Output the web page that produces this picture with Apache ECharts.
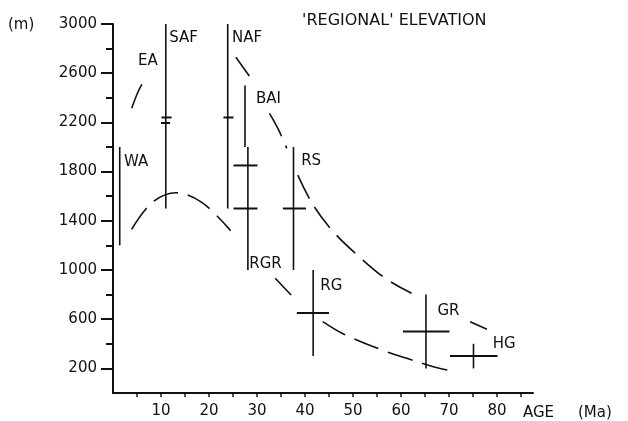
<!DOCTYPE html>
<html>
<head>
<meta charset="utf-8">
<script src="https://cdn.jsdelivr.net/npm/echarts@6/dist/echarts.min.js"></script>
<style>
html,body{margin:0;padding:0;background:#fff;}
#chart{width:628px;height:421px;}
</style>
</head>
<body>
<div id="chart"></div>
<script>
// ---- data (age in Ma, elevation in m) ----
const xTickLabels = [10, 20, 30, 40, 50, 60, 70, 80];
const xTicks = [5, 10, 15, 20, 25, 30, 35, 40, 45, 50, 55, 60, 65, 70, 75, 80, 85];
const yTickLabels = [200, 600, 1000, 1400, 1800, 2200, 2600, 3000];
const yMinorTicks = [400, 800, 1200, 1600, 2000, 2400, 2800];

// vertical ranges: [age, low elevation, high elevation]
const verticalRanges = [
  [1.4, 1200, 2000],   // WA
  [11.0, 1500, 3000],  // SAF
  [23.9, 1500, 3000],  // NAF
  [27.5, 2000, 2500],  // BAI upper
  [28.1, 1000, 2000],  // BAI lower
  [37.6, 1000, 2000],  // RS
  [41.7, 300, 1000],   // RG
  [65.2, 200, 800],    // GR
  [75.1, 200, 400]     // HG
];
// horizontal ranges: [elevation, age low, age high]
const horizontalRanges = [
  [2240, 10.1, 12.2],  // SAF
  [2195, 10.0, 11.9],  // SAF
  [2240, 23.0, 25.1],  // NAF
  [1850, 25.1, 30.1],  // BAI
  [1500, 25.1, 30.1],  // BAI
  [1500, 35.4, 40.2],  // RS
  [650, 38.3, 45.0],   // RG
  [500, 60.4, 70.1],   // GR
  [300, 70.2, 80.1]    // HG
];
// upper dashed envelope (null = break)
const upperCurve = [
  [3.9, 2315], [5.3, 2455], [7.0, 2577], null,
  [25.6, 2729], [28.4, 2577], null,
  [32.6, 2274], [34.5, 2140], [36.2, 1989], null,
  [38.5, 1772], [41.7, 1528], [45.9, 1311], [51.1, 1114], [56.7, 933], [62.2, 811], null,
  [74.4, 580], [77.9, 518]
];
// lower dashed envelope
const lowerCurve = [
  [3.9, 1331], [8.1, 1547], [13.1, 1628], [18.5, 1550], [24.5, 1320], null,
  [33.8, 933], [37.1, 797], null,
  [43.7, 580], [48.0, 480], [56.0, 350], [61.2, 282], [67.1, 209], [70.6, 181]
];
// site labels: [name, age, elevation]
const siteLabels = [
  ['WA', 2.3, 1880], ['EA', 5.2, 2700], ['SAF', 11.7, 2886], ['NAF', 24.8, 2886],
  ['BAI', 29.8, 2391], ['RS', 39.2, 1888], ['RGR', 28.4, 1044], ['RG', 43.2, 873],
  ['GR', 67.6, 662], ['HG', 79.1, 394]
];
const titleText = "'REGIONAL' ELEVATION";
const yUnit = '(m)';
const xName = 'AGE';
const xUnit = '(Ma)';

// ---- chart ----
const INK = '#111111';
const FONT = 'DejaVu Sans';

function splitPieces(arr) {
  const pieces = [];
  let cur = [];
  arr.forEach(p => {
    if (p === null) { if (cur.length) pieces.push(cur); cur = []; }
    else cur.push(p);
  });
  if (cur.length) pieces.push(cur);
  return pieces;
}

const curveSeries = [];
[upperCurve, lowerCurve].forEach(curve => {
  splitPieces(curve).forEach(piece => {
    curveSeries.push({
      type: 'line',
      data: piece,
      smooth: 0.35,
      showSymbol: false,
      symbol: 'none',
      z: 2,
      silent: true,
      lineStyle: { color: INK, width: 1.6, type: [26, 10] }
    });
  });
});

const plain = v => String(v);
const txt = (size) => ({ fontFamily: FONT, fontSize: size, fontWeight: 'normal', color: INK });

const chart = echarts.init(document.getElementById('chart'), null, { renderer: 'canvas' });
chart.setOption({
  animation: false,
  backgroundColor: '#ffffff',
  textStyle: { fontFamily: FONT, color: INK },
  title: [
    { text: titleText, left: 297, top: 8, padding: 5, textStyle: txt(16) },
    { text: yUnit, left: 3, top: 13, padding: 5, textStyle: txt(15) },
    { text: xName, left: 518, top: 401, padding: 5, textStyle: txt(15) },
    { text: xUnit, left: 573, top: 401, padding: 5, textStyle: txt(15) }
  ],
  grid: { left: 113, right: 95, top: 24, bottom: 28, containLabel: false },
  xAxis: {
    type: 'value', min: 0, max: 87.5,
    splitLine: { show: false },
    axisLine: { lineStyle: { color: INK, width: 2 } },
    axisTick: { show: true, inside: false, length: 4, customValues: xTicks, lineStyle: { color: INK, width: 1.5 } },
    axisLabel: { customValues: xTickLabels, formatter: plain, margin: 11, fontFamily: FONT, fontSize: 15, color: INK }
  },
  yAxis: [
    {
      type: 'value', min: 0, max: 3000,
      splitLine: { show: false },
      axisLine: { lineStyle: { color: INK, width: 2 } },
      axisTick: { show: true, inside: false, length: 12, customValues: yTickLabels, lineStyle: { color: INK, width: 2 } },
      axisLabel: { customValues: yTickLabels, formatter: plain, margin: 16, fontFamily: FONT, fontSize: 15, color: INK }
    },
    {
      type: 'value', min: 0, max: 3000, position: 'left',
      splitLine: { show: false },
      axisLine: { show: false },
      axisTick: { show: true, inside: false, length: 7, customValues: yMinorTicks, lineStyle: { color: INK, width: 2 } },
      axisLabel: { show: false }
    }
  ],
  series: [
    {
      type: 'custom',
      data: verticalRanges,
      encode: { x: 0, y: [1, 2] },
      z: 3,
      silent: true,
      renderItem: function (params, api) {
        const a = api.coord([api.value(0), api.value(1)]);
        const b = api.coord([api.value(0), api.value(2)]);
        return { type: 'line', shape: { x1: a[0], y1: a[1], x2: b[0], y2: b[1] },
                 style: { stroke: INK, lineWidth: 1.6 } };
      }
    },
    {
      type: 'custom',
      data: horizontalRanges,
      encode: { y: 0, x: [1, 2] },
      z: 3,
      silent: true,
      renderItem: function (params, api) {
        const a = api.coord([api.value(1), api.value(0)]);
        const b = api.coord([api.value(2), api.value(0)]);
        return { type: 'line', shape: { x1: a[0], y1: a[1], x2: b[0], y2: b[1] },
                 style: { stroke: INK, lineWidth: 2 } };
      }
    },
    ...curveSeries,
    {
      type: 'scatter',
      data: siteLabels.map(s => ({ name: s[0], value: [s[1], s[2]] })),
      symbolSize: 0,
      z: 5,
      silent: true,
      itemStyle: { opacity: 1, color: INK },
      label: {
        show: true, position: 'right', distance: 0, opacity: 1,
        formatter: p => p.name,
        fontFamily: FONT, fontSize: 15, color: INK
      }
    }
  ]
});
</script>
</body>
</html>
